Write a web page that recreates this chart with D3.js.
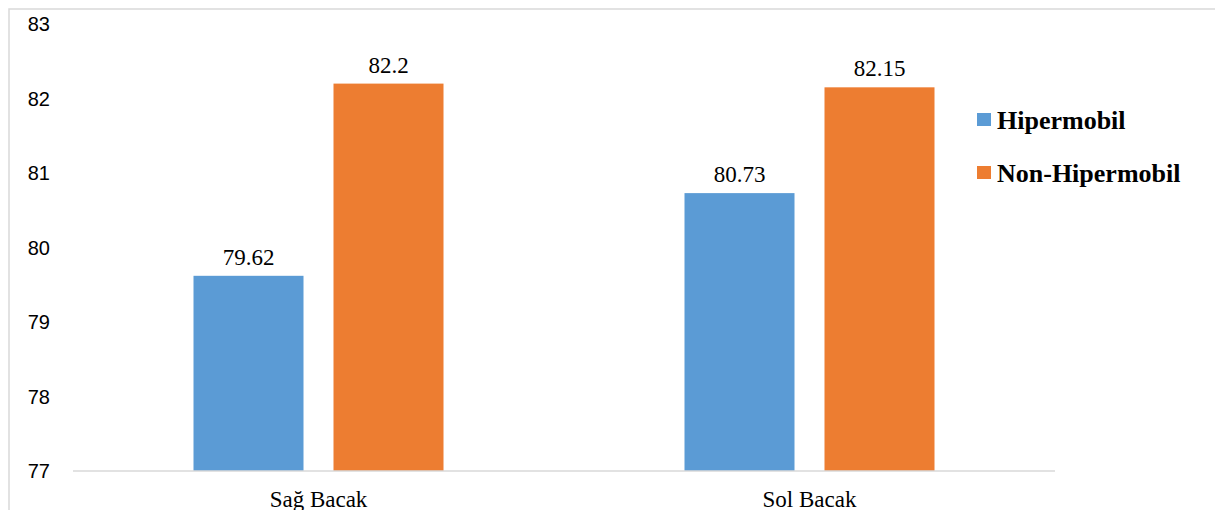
<!DOCTYPE html>
<html>
<head>
<meta charset="utf-8">
<script src="https://cdn.jsdelivr.net/npm/d3@7"></script>
<style>
  body { margin: 0; background: #fff; }
</style>
</head>
<body>
<div id="chart"></div>
<script>
const categories = ["Sağ Bacak", "Sol Bacak"];
const series = ["Hipermobil", "Non-Hipermobil"];
const hipermobil = [79.62, 80.73];
const nonHipermobil = [82.2, 82.15];
const yTicks = [77, 78, 79, 80, 81, 82, 83];
const colors = ["#5B9BD5", "#ED7D31"];

const values = [hipermobil, nonHipermobil];

const svg = d3.select("#chart")
  .append("svg")
  .attr("width", 1215)
  .attr("height", 510);

// outer frame (only top and left edges are in view)
svg.append("path")
  .attr("d", "M9,510 V9 H1215")
  .attr("fill", "none")
  .attr("stroke", "#d9d9d9")
  .attr("stroke-width", 1.5);

const x0 = d3.scaleBand()
  .domain(categories)
  .range([73, 1055]);

const x1 = d3.scaleBand()
  .domain(series)
  .range([120.5, 370.5])
  .paddingInner(30 / 140);

const y = d3.scaleLinear()
  .domain([77, 83])
  .range([471, 24]);

// y labels
svg.append("g")
  .selectAll("text")
  .data(yTicks)
  .enter()
  .append("text")
  .attr("x", 50)
  .attr("y", d => y(d))
  .attr("dy", "0.35em")
  .attr("text-anchor", "end")
  .attr("font-family", "Liberation Sans, Arial, sans-serif")
  .attr("font-size", 20)
  .attr("fill", "#000")
  .text(d => d);

// bars
const groups = svg.append("g")
  .selectAll("g")
  .data(categories)
  .enter()
  .append("g")
  .attr("transform", d => `translate(${x0(d)},0)`);

groups.selectAll("rect")
  .data((d, i) => series.map((s, j) => ({ s, j, v: values[j][i] })))
  .enter()
  .append("rect")
  .attr("x", d => x1(d.s))
  .attr("y", d => y(d.v))
  .attr("width", x1.bandwidth())
  .attr("height", d => y(77) - y(d.v))
  .attr("fill", d => colors[d.j]);

groups.selectAll("text.val")
  .data((d, i) => series.map((s, j) => ({ s, j, v: values[j][i] })))
  .enter()
  .append("text")
  .attr("class", "val")
  .attr("x", d => x1(d.s) + x1.bandwidth() / 2)
  .attr("y", d => y(d.v) - 11)
  .attr("text-anchor", "middle")
  .attr("font-family", "Liberation Serif, Times New Roman, serif")
  .attr("font-size", 23)
  .attr("fill", "#000")
  .text(d => d.v);

// baseline
svg.append("line")
  .attr("x1", 73)
  .attr("x2", 1055)
  .attr("y1", y(77))
  .attr("y2", y(77))
  .attr("stroke", "#d9d9d9")
  .attr("stroke-width", 1.5);

// category labels
svg.append("g")
  .selectAll("text")
  .data(categories)
  .enter()
  .append("text")
  .attr("x", d => x0(d) + x0.bandwidth() / 2)
  .attr("y", 507)
  .attr("text-anchor", "middle")
  .attr("font-family", "Liberation Serif, Times New Roman, serif")
  .attr("font-size", 23)
  .attr("fill", "#000")
  .text(d => d);

// legend
const legend = svg.append("g")
  .selectAll("g")
  .data(series)
  .enter()
  .append("g")
  .attr("transform", (d, i) => `translate(977,${113 + i * 53})`);

legend.append("rect")
  .attr("width", 14)
  .attr("height", 13)
  .attr("fill", (d, i) => colors[i]);

legend.append("text")
  .attr("x", 20)
  .attr("y", 16)
  .attr("font-family", "Liberation Serif, Times New Roman, serif")
  .attr("font-weight", "bold")
  .attr("font-size", 26)
  .attr("fill", "#000")
  .text(d => d);
</script>
</body>
</html>
